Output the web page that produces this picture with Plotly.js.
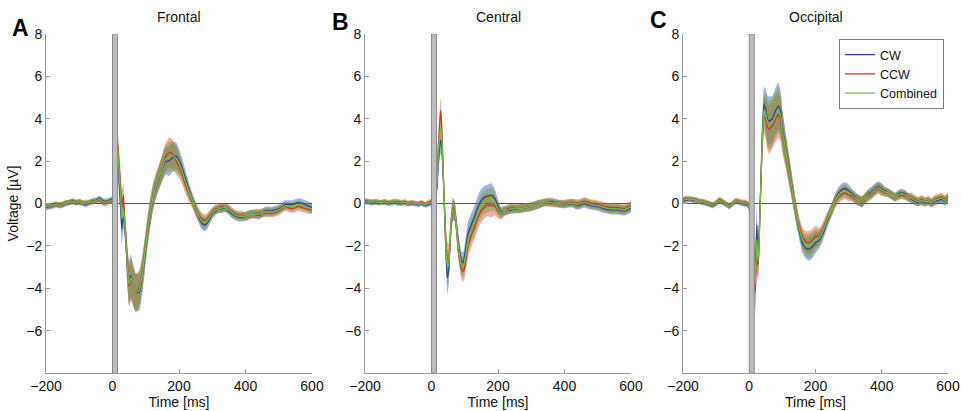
<!DOCTYPE html>
<html>
<head>
<meta charset="utf-8">
<script src="https://cdn.plot.ly/plotly-3.0.1.min.js"></script>
<style>html,body{margin:0;padding:0;background:#fff;}#chart{width:963px;height:411px;}</style>
</head>
<body>
<div id="chart"></div>
<script>
// ---------- DATA (µV) ----------
const panelTitles = ["Frontal", "Central", "Occipital"];
const panelLetters = ["A", "B", "C"];
const seriesNames = ["CW", "CCW", "Combined"];
const xTicks = [-200, 0, 200, 400, 600];
const yTicks = [-6, -4, -2, 0, 2, 4, 6, 8];

// Panel A – Frontal
const tA = [-200,-190,-180,-170,-160,-150,-140,-130,-120,-110,-100,-90,-80,-70,-60,-50,-40,-30,-20,-10,-2,
  15,20,25,28,33,36,40,45,50,55,60,
  70,80,90,100,110,120,130,140,150,160,170,180,190,200,210,220,230,240,250,260,
  270,280,290,300,310,320,330,340,350,360,370,380,390,400,
  420,440,460,480,500,520,540,560,580,600];
const cwA = [-0.2,-0.15,-0.12,-0.05,-0.1,-0.08,0.0,0.05,0.12,0.05,0.05,0.0,-0.05,0.05,0.12,0.15,0.25,0.15,0.1,0.15,0.2,
  2.4,1.0,-0.3,-1.2,-0.6,-0.9,-1.7,-3.1,-3.7,-3.4,-3.7,
  -4.2,-4.2,-3.4,-2.1,-0.9,0.1,0.75,1.2,1.65,2.0,2.0,2.15,2.25,2.05,1.65,1.15,0.65,0.2,-0.2,-0.65,
  -0.95,-1.0,-0.8,-0.5,-0.35,-0.25,-0.25,-0.2,-0.35,-0.5,-0.6,-0.65,-0.65,-0.6,
  -0.5,-0.55,-0.35,-0.35,-0.25,-0.05,-0.05,0.05,-0.05,-0.2];
const ccwA = [-0.1,-0.1,-0.08,-0.05,-0.06,-0.02,0.04,0.05,0.08,0.05,0.1,0.04,0.05,0.05,0.08,0.1,0.15,0.05,0.0,0.1,0.1,
  2.9,1.8,0.7,-0.2,0.4,-0.7,-1.5,-2.9,-3.9,-3.6,-3.8,
  -4.2,-4.0,-3.2,-1.9,-0.7,0.2,0.85,1.3,1.75,2.2,2.4,2.35,2.05,1.75,1.35,0.85,0.45,0.1,-0.3,-0.55,
  -0.75,-0.8,-0.6,-0.4,-0.25,-0.25,-0.15,-0.2,-0.25,-0.4,-0.5,-0.55,-0.55,-0.6,
  -0.5,-0.45,-0.45,-0.45,-0.35,-0.15,-0.25,-0.15,-0.25,-0.3];
const combA = [-0.15,-0.12,-0.1,-0.05,-0.08,-0.05,0.02,0.05,0.1,0.05,0.08,0.02,0.0,0.05,0.1,0.12,0.2,0.1,0.05,0.12,0.15,
  2.6,1.4,0.2,-0.7,-0.3,-0.8,-1.6,-3.0,-3.8,-3.5,-3.7,
  -4.2,-4.1,-3.3,-2.0,-0.8,0.15,0.8,1.25,1.7,2.1,2.2,2.25,2.15,1.9,1.5,1.0,0.55,0.15,-0.25,-0.6,
  -0.85,-0.9,-0.7,-0.45,-0.3,-0.25,-0.2,-0.2,-0.3,-0.45,-0.55,-0.6,-0.6,-0.6,
  -0.5,-0.5,-0.4,-0.4,-0.3,-0.1,-0.15,-0.05,-0.15,-0.25];
const semA = [0.13,0.13,0.13,0.13,0.13,0.13,0.13,0.13,0.13,0.13,0.13,0.13,0.13,0.13,0.13,0.13,0.13,0.13,0.13,0.13,0.13,
  0.7,0.7,0.7,0.8,0.6,0.6,0.7,0.9,1.0,1.0,0.95,
  0.9,0.85,0.8,0.7,0.65,0.6,0.55,0.55,0.6,0.65,0.7,0.7,0.65,0.55,0.45,0.4,0.35,0.3,0.3,0.3,
  0.3,0.3,0.25,0.22,0.2,0.2,0.2,0.2,0.2,0.2,0.2,0.2,0.2,0.2,
  0.2,0.2,0.2,0.2,0.2,0.2,0.2,0.2,0.2,0.2];

// Panel B – Central
const tB = [-200,-190,-180,-170,-160,-150,-140,-130,-120,-110,-100,-90,-80,-70,-60,-50,-40,-30,-20,-10,-2,
  15,20,25,28,32,36,40,45,48,52,56,60,65,70,75,80,85,90,95,100,
  110,120,130,140,150,160,170,180,190,200,210,220,
  240,260,280,300,320,340,360,380,400,420,440,460,480,500,520,540,560,580,600];
const cwB = [0.05,0.05,0.02,0.05,0.02,0.05,0.05,0.0,0.02,0.05,0.0,0.0,0.02,-0.02,0.0,-0.02,-0.05,0.0,-0.08,-0.05,0.0,
  0.6,1.8,2.7,3.0,2.4,1.0,-0.8,-2.9,-3.5,-3.1,-1.8,-0.9,-0.3,-0.4,-1.0,-1.7,-2.3,-2.7,-2.8,-2.4,
  -1.4,-1.0,-0.6,-0.15,0.15,0.3,0.35,0.4,0.25,-0.15,-0.4,-0.35,
  -0.3,-0.25,-0.2,-0.15,-0.05,0.05,0.1,0.0,-0.05,0.0,-0.1,0.0,-0.1,-0.15,-0.25,-0.3,-0.3,-0.35,-0.2];
const ccwB = [0.15,0.1,0.08,0.1,0.08,0.05,0.1,0.05,0.08,0.1,0.1,0.05,0.08,0.02,0.05,0.02,0.0,0.05,-0.02,0.05,0.1,
  1.0,2.6,3.9,4.4,3.2,1.2,-0.4,-2.2,-2.6,-2.6,-1.6,-0.7,-0.2,-0.4,-1.2,-2.1,-2.7,-3.1,-3.2,-3.0,
  -2.0,-1.5,-1.1,-0.65,-0.35,-0.15,-0.05,-0.1,-0.1,-0.35,-0.5,-0.35,
  -0.2,-0.25,-0.2,-0.15,-0.05,0.05,0.0,0.0,0.0,0.05,0.0,0.1,0.0,-0.05,-0.15,-0.2,-0.2,-0.25,-0.1];
const combB = [0.1,0.08,0.05,0.08,0.05,0.05,0.08,0.02,0.05,0.08,0.05,0.02,0.05,0.0,0.03,0.0,-0.02,0.02,-0.05,0.0,0.05,
  0.8,2.2,3.3,3.6,2.8,1.1,-0.6,-2.5,-3.0,-2.85,-1.7,-0.8,-0.25,-0.4,-1.1,-1.9,-2.5,-2.9,-3.0,-2.7,
  -1.7,-1.25,-0.85,-0.4,-0.1,0.08,0.15,0.2,0.08,-0.25,-0.45,-0.35,
  -0.25,-0.25,-0.2,-0.15,-0.05,0.05,0.05,0.0,-0.03,0.03,-0.05,0.05,-0.05,-0.1,-0.2,-0.25,-0.25,-0.3,-0.15];
const semB = [0.12,0.12,0.12,0.12,0.12,0.12,0.12,0.12,0.12,0.12,0.12,0.12,0.12,0.12,0.12,0.12,0.12,0.12,0.12,0.12,0.12,
  0.35,0.45,0.55,0.6,0.5,0.45,0.5,0.7,0.8,0.7,0.55,0.5,0.5,0.45,0.45,0.45,0.45,0.45,0.5,0.5,
  0.55,0.55,0.55,0.55,0.55,0.55,0.55,0.55,0.45,0.35,0.25,0.22,
  0.2,0.2,0.2,0.2,0.2,0.18,0.18,0.18,0.18,0.18,0.2,0.2,0.2,0.2,0.2,0.22,0.22,0.22,0.2];

// Panel C – Occipital
const tC = [-200,-190,-180,-170,-160,-150,-140,-130,-120,-110,-100,-90,-80,-70,-60,-50,-40,-30,-20,-10,-2,
  15,18,20,23,26,28,32,36,40,45,50,55,60,70,80,88,95,100,
  110,120,130,140,150,160,170,180,190,200,210,220,230,240,250,260,270,280,290,300,
  310,320,330,340,350,360,370,380,390,400,410,420,430,440,450,460,470,480,490,500,
  510,520,530,540,550,560,570,580,590,600];
const cwC = [0.1,0.15,0.2,0.15,0.15,0.1,0.05,0.0,-0.05,-0.1,0.0,0.12,0.05,-0.05,-0.1,0.0,0.1,0.05,0.0,-0.05,-0.12,
  -2.9,-3.5,-2.4,-1.0,-2.5,-2.2,-0.5,1.5,3.5,4.7,4.4,4.0,3.9,4.0,4.4,4.6,4.3,3.6,
  2.6,1.7,0.7,-0.3,-1.2,-1.85,-2.1,-2.15,-2.05,-1.85,-1.75,-1.5,-1.1,-0.65,-0.25,0.2,0.5,0.65,0.7,0.6,
  0.45,0.3,0.15,0.05,0.25,0.45,0.55,0.7,0.8,0.7,0.6,0.5,0.4,0.3,0.45,0.5,0.45,0.3,0.2,0.1,
  0.05,0.1,0.05,0.1,0.0,0.1,0.15,0.2,0.1,0.2];
const ccwC = [0.2,0.25,0.2,0.2,0.15,0.1,0.1,0.05,0.0,-0.05,0.05,0.18,0.1,0.0,-0.15,0.0,0.15,0.1,0.05,0.05,-0.05,
  -2.6,-4.2,-3.4,-2.4,-2.9,-2.6,-0.7,1.3,3.1,4.1,4.0,3.6,3.5,3.7,4.0,4.2,3.9,3.3,
  2.4,1.5,0.6,-0.3,-1.0,-1.55,-1.8,-1.85,-1.75,-1.55,-1.55,-1.3,-0.9,-0.55,-0.25,0.1,0.3,0.45,0.5,0.4,
  0.35,0.2,0.15,0.1,0.25,0.35,0.45,0.6,0.7,0.6,0.5,0.5,0.4,0.3,0.35,0.4,0.35,0.3,0.3,0.2,
  0.1,0.2,0.1,0.15,0.05,0.2,0.25,0.3,0.2,0.3];
const combC = [0.15,0.2,0.2,0.18,0.15,0.1,0.08,0.02,-0.03,-0.08,0.03,0.15,0.08,-0.03,-0.12,0.0,0.12,0.08,0.03,0.0,-0.08,
  -2.7,-3.8,-2.9,-1.7,-2.7,-2.4,-0.6,1.4,3.3,4.4,4.2,3.8,3.7,3.85,4.2,4.4,4.1,3.45,
  2.5,1.6,0.65,-0.3,-1.1,-1.7,-1.95,-2.0,-1.9,-1.7,-1.65,-1.4,-1.0,-0.6,-0.25,0.15,0.4,0.55,0.6,0.5,
  0.4,0.25,0.15,0.08,0.25,0.4,0.5,0.65,0.75,0.65,0.55,0.5,0.4,0.3,0.4,0.45,0.4,0.3,0.25,0.15,
  0.08,0.15,0.08,0.12,0.03,0.15,0.2,0.25,0.15,0.25];
const semC = [0.13,0.13,0.13,0.13,0.13,0.13,0.13,0.13,0.13,0.13,0.13,0.13,0.13,0.13,0.13,0.13,0.13,0.13,0.13,0.13,0.13,
  0.9,1.1,1.0,0.9,0.8,0.8,0.7,0.7,0.8,0.8,1.0,1.1,1.15,1.1,1.1,1.1,1.0,0.9,
  0.75,0.65,0.55,0.5,0.45,0.45,0.5,0.55,0.55,0.5,0.4,0.35,0.3,0.3,0.3,0.3,0.3,0.3,0.3,0.3,
  0.25,0.25,0.25,0.25,0.25,0.25,0.25,0.25,0.25,0.25,0.2,0.2,0.2,0.2,0.2,0.2,0.2,0.2,0.2,0.2,
  0.2,0.2,0.2,0.2,0.2,0.2,0.2,0.2,0.2,0.2];

// ---------- STYLE ----------
const lineColors = ["#2f4396", "#c8392c", "#6cc24a"];
const bandColors = ["rgba(45,75,190,0.42)", "rgba(215,60,40,0.42)", "rgba(110,165,50,0.48)"];
const FONT = "Liberation Sans, Arial, Helvetica, sans-serif";
const letterPos = [[20, 28], [340, 22], [658, 20]];

const panels = [
  {t: tA, s: [cwA, ccwA, combA], sem: semA, dom: [46/963, 312/963]},
  {t: tB, s: [cwB, ccwB, combB], sem: semB, dom: [365/963, 631/963]},
  {t: tC, s: [cwC, ccwC, combC], sem: semC, dom: [683/963, 948/963]}
];

const traces = [];
const layout = {
  width: 963, height: 411,
  margin: {l: 0, r: 0, t: 0, b: 0},
  paper_bgcolor: "#fff", plot_bgcolor: "rgba(0,0,0,0)",
  font: {family: FONT, size: 14, color: "#111"},
  showlegend: true,
  legend: {
    x: 944/963, xanchor: "right", y: 1 - 39/411, yanchor: "top",
    bgcolor: "#fff", bordercolor: "#777", borderwidth: 1,
    font: {family: FONT, size: 12.5, color: "#111"},
    tracegroupgap: 0, itemwidth: 30
  },
  shapes: [], annotations: []
};
const yDom = [1 - 373/411, 1 - 34/411];

panels.forEach((p, i) => {
  const xa = i === 0 ? "x" : "x" + (i + 1);
  const ya = i === 0 ? "y" : "y" + (i + 1);
  const xKey = i === 0 ? "xaxis" : "xaxis" + (i + 1);
  const yKey = i === 0 ? "yaxis" : "yaxis" + (i + 1);

  // bands (mean ± error)
  p.s.forEach((vals, k) => {
    const up = vals.map((v, j) => v + p.sem[j]);
    const lo = vals.map((v, j) => v - p.sem[j]);
    traces.push({
      type: "scatter", mode: "lines", xaxis: xa, yaxis: ya,
      x: p.t.concat(p.t.slice().reverse()),
      y: up.concat(lo.reverse()),
      fill: "toself", fillcolor: bandColors[k],
      line: {width: 0, shape: "spline", smoothing: 0.6}, hoverinfo: "skip", showlegend: false
    });
  });
  // mean lines
  p.s.forEach((vals, k) => {
    traces.push({
      type: "scatter", mode: "lines", xaxis: xa, yaxis: ya,
      x: p.t, y: vals, name: seriesNames[k],
      line: {color: lineColors[k], width: 1.3, shape: "spline", smoothing: 0.6},
      showlegend: i === 2
    });
  });

  layout[xKey] = {
    domain: p.dom, anchor: ya, range: [-200, 600],
    tickvals: xTicks, ticks: "inside", ticklen: 4, tickcolor: "#999",
    showline: true, linecolor: "#999", linewidth: 1,
    showgrid: false, zeroline: false,
    tickfont: {family: FONT, size: 14, color: "#111"},
    title: {text: "Time [ms]", standoff: 2, font: {family: FONT, size: 14, color: "#111"}}
  };
  layout[yKey] = {
    domain: yDom, anchor: xa, range: [-8, 8],
    tickvals: yTicks, ticks: "inside", ticklen: 4, tickcolor: "#999",
    showline: true, linecolor: "#999", linewidth: 1,
    showgrid: false, zeroline: false,
    tickfont: {family: FONT, size: 14, color: "#111"},
    title: i === 0 ? {text: "Voltage [µV]", standoff: 4, font: {family: FONT, size: 14, color: "#111"}} : {text: ""}
  };

  // zero line
  layout.shapes.push({type: "line", xref: xa, yref: ya, x0: -200, x1: 600, y0: 0, y1: 0,
    line: {color: "#555", width: 1}, layer: "below"});
  // stimulus artefact bar
  layout.shapes.push({type: "rect", xref: xa, yref: ya, x0: 0, x1: 15, y0: -8, y1: 8,
    fillcolor: "#bdbdbd", line: {color: "#8a8a8a", width: 1}, layer: "above"});

  // panel title
  layout.annotations.push({text: panelTitles[i], xref: "paper", yref: "paper",
    x: (p.dom[0] + p.dom[1]) / 2, y: 1 - 17/411, xanchor: "center", yanchor: "middle",
    showarrow: false, font: {family: FONT, size: 14, color: "#111"}});
  // panel letter
  layout.annotations.push({text: "<b>" + panelLetters[i] + "</b>", xref: "paper", yref: "paper",
    x: letterPos[i][0] / 963, y: 1 - letterPos[i][1] / 411, xanchor: "center", yanchor: "middle",
    showarrow: false, font: {family: FONT, size: 23, color: "#000"}});
});

Plotly.newPlot("chart", traces, layout, {displayModeBar: false, staticPlot: true});
</script>
</body>
</html>
